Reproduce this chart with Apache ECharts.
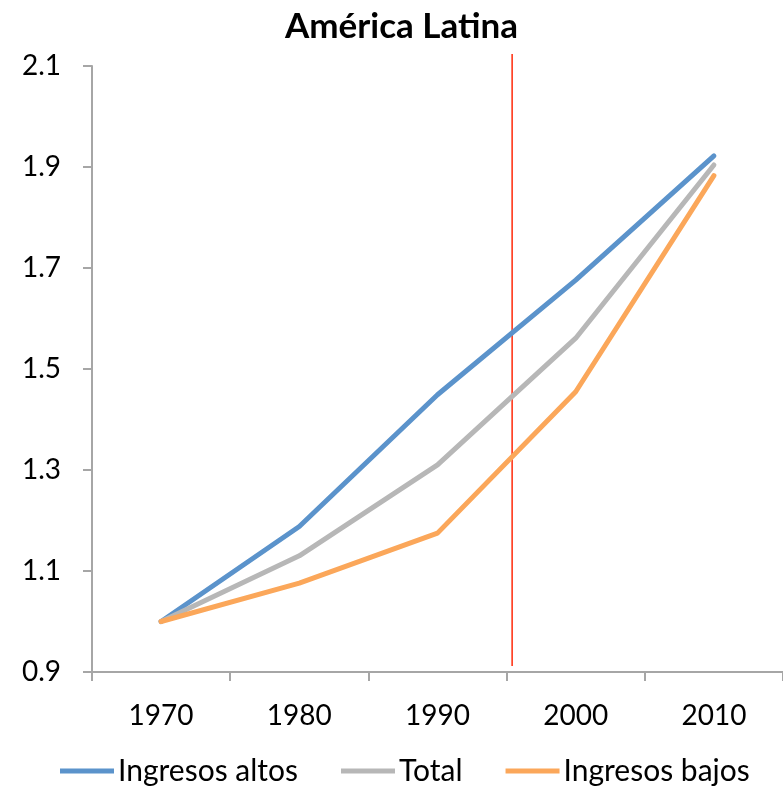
<!DOCTYPE html>
<html>
<head>
<meta charset="utf-8">
<script src="https://cdn.jsdelivr.net/npm/echarts@6/dist/echarts.min.js"></script>
<style>
html,body{margin:0;padding:0;background:#fff;}
#chart{width:783px;height:792px;}
</style>
</head>
<body>
<div id="chart"></div>
<script>
const years = ['1970', '1980', '1990', '2000', '2010'];
const ingresosAltos = [1.0, 1.188, 1.449, 1.676, 1.922];
const total = [1.0, 1.130, 1.310, 1.561, 1.904];
const ingresosBajos = [1.0, 1.076, 1.175, 1.455, 1.883];
const yTicks = { min: 0.9, max: 2.1, interval: 0.2 };
const markerYear = 1995.4;
const markerRange = [0.912, 2.124];

const FONT = 'Lato, "Open Sans", sans-serif';
const chart = echarts.init(document.getElementById('chart'), null, { renderer: 'canvas' });

chart.setOption({
  animation: false,
  backgroundColor: '#ffffff',
  title: {
    text: 'América Latina',
    left: 280,
    top: 4,
    textStyle: { fontFamily: FONT, fontSize: 35, fontWeight: 'bold', color: '#000' }
  },
  legend: {
    data: ['Ingresos altos', 'Total', 'Ingresos bajos'],
    bottom: 1,
    left: 55,
    icon: 'rect',
    itemWidth: 54,
    itemHeight: 5,
    itemGap: 43,
    textStyle: { fontFamily: FONT, fontSize: 30, color: '#000', padding: [0, 0, 0, -1] }
  },
  grid: { left: 92, right: 0, top: 66, bottom: 120, containLabel: false },
  xAxis: [
    {
      type: 'category',
      data: years,
      boundaryGap: true,
      axisLine: { lineStyle: { color: '#A6A6A6', width: 2 } },
      axisTick: { show: true, length: 9, lineStyle: { color: '#A6A6A6', width: 2 } },
      axisLabel: { fontFamily: FONT, fontSize: 28, color: '#000', margin: 30 },
      splitLine: { show: false }
    },
    {
      type: 'value',
      min: 1965,
      max: 2015,
      show: false
    }
  ],
  yAxis: {
    type: 'value',
    min: yTicks.min,
    max: yTicks.max,
    interval: yTicks.interval,
    axisLine: { show: true, lineStyle: { color: '#A6A6A6', width: 2 } },
    axisTick: { show: true, length: 9, lineStyle: { color: '#A6A6A6', width: 2 } },
    axisLabel: {
      fontFamily: FONT, fontSize: 28, color: '#000', margin: 31,
      formatter: v => v.toFixed(1)
    },
    splitLine: { show: false }
  },
  series: [
    {
      name: 'Ingresos altos', type: 'line', data: ingresosAltos,
      symbol: 'none', color: '#5B93CB',
      lineStyle: { width: 5, color: '#5B93CB', cap: 'round', join: 'round' }
    },
    {
      name: 'Total', type: 'line', data: total,
      symbol: 'none', color: '#B7B7B7',
      lineStyle: { width: 5, color: '#B7B7B7', cap: 'round', join: 'round' }
    },
    {
      name: 'Ingresos bajos', type: 'line', data: ingresosBajos,
      symbol: 'none', color: '#FBA75A',
      lineStyle: { width: 5, color: '#FBA75A', cap: 'round', join: 'round' }
    },
    {
      name: 'marker', type: 'line', xAxisIndex: 1,
      data: [[markerYear, markerRange[0]], [markerYear, markerRange[1]]],
      symbol: 'none', clip: false, silent: true,
      lineStyle: { width: 1.5, color: '#FF2A0A' },
      z: 1
    }
  ]
});
</script>
</body>
</html>
